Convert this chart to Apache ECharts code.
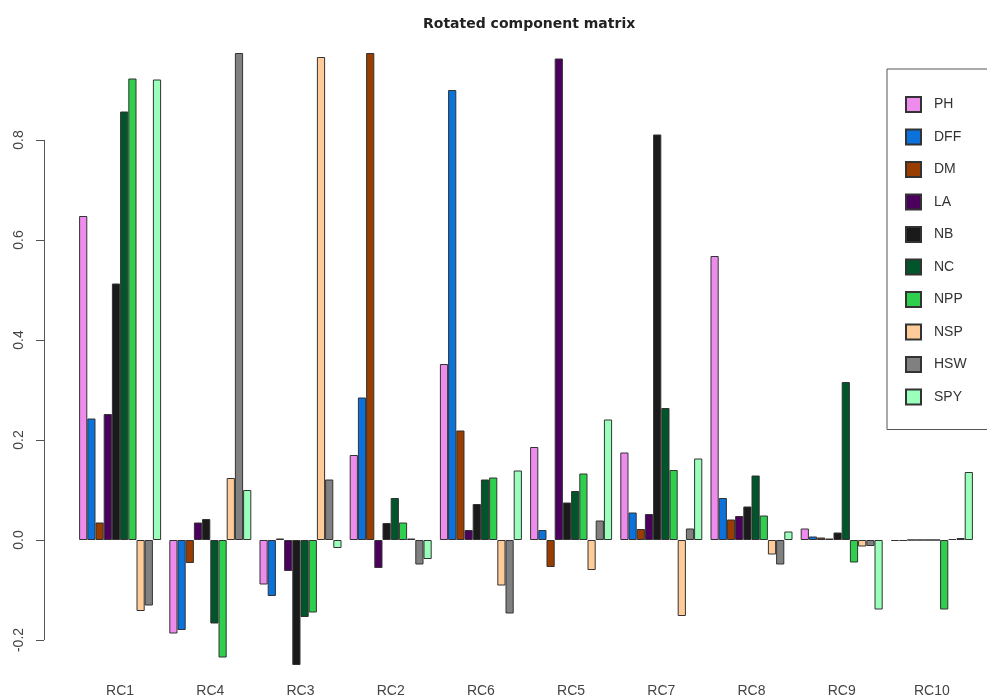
<!DOCTYPE html>
<html>
<head>
<meta charset="utf-8">
<script src="https://cdn.jsdelivr.net/npm/echarts@6/dist/echarts.min.js"></script>
<style>
  html, body { margin: 0; padding: 0; background: #fff; }
  #main { width: 987px; height: 698px; }
</style>
</head>
<body>
<div id="main"></div>
<script>
// components on the x axis
var components = ['RC1', 'RC4', 'RC3', 'RC2', 'RC6', 'RC5', 'RC7', 'RC8', 'RC9', 'RC10'];
// traits (legend)
var traits = ['PH', 'DFF', 'DM', 'LA', 'NB', 'NC', 'NPP', 'NSP', 'HSW', 'SPY'];
var colors = ['#ee8cee', '#0b72dc', '#993d00', '#4a005c', '#1a1a1a', '#00552b', '#2ecf4d', '#ffcc99', '#808080', '#99ffbb'];

// loadings, one array per trait, in the order of components
var PH  = [0.648, -0.187, -0.089, 0.170, 0.352, 0.186, 0.175, 0.568, 0.023, -0.002];
var DFF = [0.243, -0.180, -0.112, 0.285, 0.900, 0.020, 0.055, 0.084, 0.007, -0.002];
var DM  = [0.035, -0.046, 0.003, 0.974, 0.219, -0.054, 0.022, 0.041, 0.005, 0.000];
var LA  = [0.252, 0.035, -0.062, -0.056, 0.020, 0.963, 0.052, 0.048, 0.003, 0.000];
var NB  = [0.513, 0.042, -0.250, 0.034, 0.072, 0.075, 0.811, 0.067, 0.015, 0.000];
var NC  = [0.857, -0.167, -0.154, 0.084, 0.121, 0.098, 0.264, 0.129, 0.316, 0.000];
var NPP = [0.923, -0.235, -0.145, 0.035, 0.125, 0.133, 0.140, 0.049, -0.045, -0.139];
var NSP = [-0.142, 0.124, 0.966, 0.003, -0.091, -0.060, -0.152, -0.029, -0.013, 0.002];
var HSW = [-0.131, 0.974, 0.121, -0.049, -0.147, 0.039, 0.023, -0.049, -0.012, 0.004];
var SPY = [0.921, 0.100, -0.016, -0.038, 0.139, 0.241, 0.163, 0.017, -0.139, 0.136];
var values = [PH, DFF, DM, LA, NB, NC, NPP, NSP, HSW, SPY];

var yTicks = [-0.2, 0.0, 0.2, 0.4, 0.6, 0.8];

var font = 'Liberation Sans, Arial, sans-serif';
var gridLeft = 75, axisOffset = 31;

var myChart = echarts.init(document.getElementById('main'));

var series = traits.map(function (name, i) {
    return {
        name: name,
        type: 'bar',
        data: values[i],
        barGap: '0%',
        barCategoryGap: '9.09%',
        itemStyle: {
            color: colors[i],
            borderColor: '#333',
            borderWidth: 1
        }
    };
});

var option = {
    animation: false,
    title: {
        text: 'Rotated component matrix',
        left: 418,
        top: 12,
        textStyle: { fontFamily: 'DejaVu Sans', fontWeight: 'bold', fontSize: 14, color: '#222' }
    },
    legend: {
        data: traits,
        orient: 'vertical',
        left: 887,
        top: 69,
        padding: [27, 80, 24, 18],
        itemWidth: 15,
        itemHeight: 15,
        itemGap: 15.5,
        borderColor: '#555',
        borderWidth: 1,
        icon: 'rect',
        textStyle: { fontFamily: font, fontSize: 14, color: '#333', padding: [0, 0, 0, 8] }
    },
    grid: {
        left: gridLeft,
        right: 10,
        top: 40,
        bottom: 20
    },
    xAxis: {
        type: 'category',
        data: components,
        axisLine: { show: false },
        axisTick: { show: false },
        axisLabel: { fontFamily: font, fontSize: 14, color: '#444', margin: 9 }
    },
    yAxis: {
        type: 'value',
        min: -0.27,
        max: 1.0,
        offset: axisOffset,
        axisLine: { show: false },
        splitLine: { show: false },
        axisTick: { show: true, length: 8, customValues: yTicks, lineStyle: { color: '#555' } },
        axisLabel: {
            customValues: yTicks,
            rotate: 90,
            margin: 18,
            fontFamily: font,
            fontSize: 14,
            color: '#444',
            formatter: function (v) { return v.toFixed(1); }
        }
    },
    series: series
};

myChart.setOption(option);

// R draws the y axis line only across the tick range
var yTop = myChart.convertToPixel({ yAxisIndex: 0 }, yTicks[yTicks.length - 1]);
var yBot = myChart.convertToPixel({ yAxisIndex: 0 }, yTicks[0]);
var ax = gridLeft - axisOffset + 0.5;
myChart.setOption({
    graphic: [{
        type: 'line',
        shape: { x1: ax, y1: yTop, x2: ax, y2: yBot },
        style: { stroke: '#555', lineWidth: 1 }
    }]
});
</script>
</body>
</html>
